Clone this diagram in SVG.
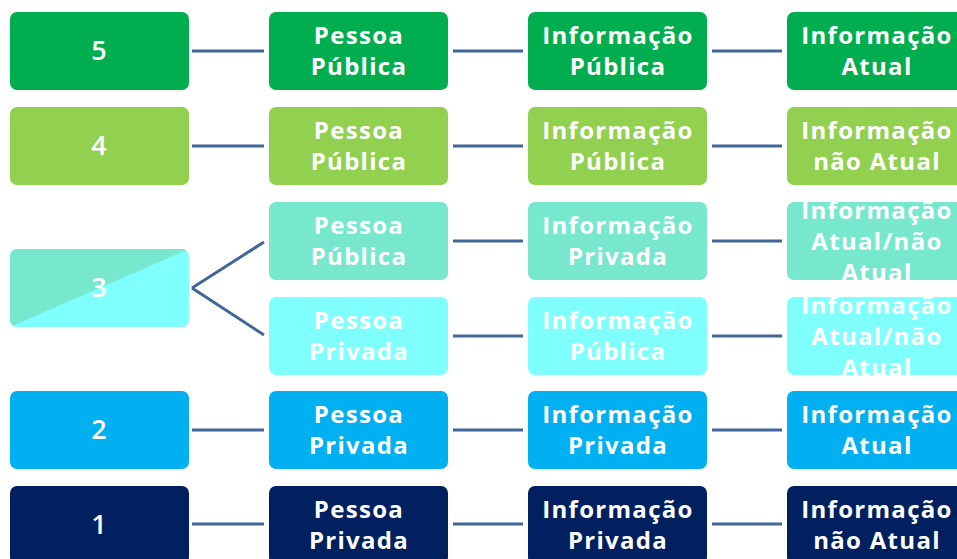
<svg xmlns="http://www.w3.org/2000/svg" width="957" height="559" viewBox="0 0 957 559">
<style>
.t{font-family:"Open Sans","DejaVu Sans",sans-serif;font-weight:700;font-size:24px;letter-spacing:1.3px;fill:#fff;text-anchor:middle}
.n{font-family:"Open Sans","DejaVu Sans",sans-serif;font-weight:600;font-size:27px;fill:#fff;text-anchor:middle}
.c{stroke:#41679A;stroke-width:3;fill:none}
</style>
<defs>
<clipPath id="cA"><rect x="787" y="202" width="179" height="78" rx="7"/></clipPath>
<clipPath id="cB"><rect x="787" y="297" width="179" height="78" rx="7"/></clipPath>
<clipPath id="c3"><rect x="10" y="249" width="179" height="78" rx="7"/></clipPath>
</defs>
<rect width="957" height="559" fill="#fff"/>
<g id="connectors">
<path class="c" d="M192 51H264M453 51H523M712 51H782"/>
<path class="c" d="M192 146H264M453 146H523M712 146H782"/>
<path class="c" d="M192 288L264 242M192 288L264 335"/>
<path class="c" d="M453 241H523M712 241H782"/>
<path class="c" d="M453 336H523M712 336H782"/>
<path class="c" d="M192 430H264M453 430H523M712 430H782"/>
<path class="c" d="M192 524H264M453 524H523M712 524H782"/>
</g>
<g id="n5"><rect x="10" y="12" width="179" height="78" rx="7" fill="#00AE50"/><text class="n" x="99" y="60">5</text></g>
<g id="n5a"><rect x="269" y="12" width="179" height="78" rx="7" fill="#00AE50"/><text class="t" x="359" y="44">Pessoa</text><text class="t" x="359" y="75">Pública</text></g>
<g id="n5b"><rect x="528" y="12" width="179" height="78" rx="7" fill="#00AE50"/><text class="t" x="618" y="44">Informação</text><text class="t" x="618" y="75">Pública</text></g>
<g id="n5c"><rect x="787" y="12" width="179" height="78" rx="7" fill="#00AE50"/><text class="t" x="877" y="44">Informação</text><text class="t" x="877" y="75">Atual</text></g>

<g id="n4"><rect x="10" y="107" width="179" height="78" rx="7" fill="#92D050"/><text class="n" x="99" y="155">4</text></g>
<g id="n4a"><rect x="269" y="107" width="179" height="78" rx="7" fill="#92D050"/><text class="t" x="359" y="139">Pessoa</text><text class="t" x="359" y="170">Pública</text></g>
<g id="n4b"><rect x="528" y="107" width="179" height="78" rx="7" fill="#92D050"/><text class="t" x="618" y="139">Informação</text><text class="t" x="618" y="170">Pública</text></g>
<g id="n4c"><rect x="787" y="107" width="179" height="78" rx="7" fill="#92D050"/><text class="t" x="877" y="139">Informação</text><text class="t" x="877" y="170">não Atual</text></g>

<g id="n3"><g clip-path="url(#c3)"><rect x="10" y="249" width="179" height="78" fill="#80FFFF"/><polygon points="10,249 189,249 10,327" fill="#77E8CE"/></g><text class="n" x="99" y="297">3</text></g>
<g id="n3a1"><rect x="269" y="202" width="179" height="78" rx="7" fill="#77E8CE"/><text class="t" x="359" y="234">Pessoa</text><text class="t" x="359" y="265">Pública</text></g>
<g id="n3a2"><rect x="528" y="202" width="179" height="78" rx="7" fill="#77E8CE"/><text class="t" x="618" y="234">Informação</text><text class="t" x="618" y="265">Privada</text></g>
<g id="n3a3"><rect x="787" y="202" width="179" height="78" rx="7" fill="#77E8CE"/><g clip-path="url(#cA)"><text class="t" x="877" y="219">Informação</text><text class="t" x="877" y="250">Atual/não</text><text class="t" x="877" y="281">Atual</text></g></g>

<g id="n3b1"><rect x="269" y="297" width="179" height="78" rx="7" fill="#80FFFF"/><text class="t" x="359" y="329">Pessoa</text><text class="t" x="359" y="360">Privada</text></g>
<g id="n3b2"><rect x="528" y="297" width="179" height="78" rx="7" fill="#80FFFF"/><text class="t" x="618" y="329">Informação</text><text class="t" x="618" y="360">Pública</text></g>
<g id="n3b3"><rect x="787" y="297" width="179" height="78" rx="7" fill="#80FFFF"/><g clip-path="url(#cB)"><text class="t" x="877" y="314">Informação</text><text class="t" x="877" y="345">Atual/não</text><text class="t" x="877" y="376">Atual</text></g></g>

<g id="n2"><rect x="10" y="391" width="179" height="78" rx="7" fill="#00B0F0"/><text class="n" x="99" y="439">2</text></g>
<g id="n2a"><rect x="269" y="391" width="179" height="78" rx="7" fill="#00B0F0"/><text class="t" x="359" y="423">Pessoa</text><text class="t" x="359" y="454">Privada</text></g>
<g id="n2b"><rect x="528" y="391" width="179" height="78" rx="7" fill="#00B0F0"/><text class="t" x="618" y="423">Informação</text><text class="t" x="618" y="454">Privada</text></g>
<g id="n2c"><rect x="787" y="391" width="179" height="78" rx="7" fill="#00B0F0"/><text class="t" x="877" y="423">Informação</text><text class="t" x="877" y="454">Atual</text></g>

<g id="n1"><rect x="10" y="486" width="179" height="78" rx="7" fill="#002060"/><text class="n" x="99" y="534">1</text></g>
<g id="n1a"><rect x="269" y="486" width="179" height="78" rx="7" fill="#002060"/><text class="t" x="359" y="518">Pessoa</text><text class="t" x="359" y="549">Privada</text></g>
<g id="n1b"><rect x="528" y="486" width="179" height="78" rx="7" fill="#002060"/><text class="t" x="618" y="518">Informação</text><text class="t" x="618" y="549">Privada</text></g>
<g id="n1c"><rect x="787" y="486" width="179" height="78" rx="7" fill="#002060"/><text class="t" x="877" y="518">Informação</text><text class="t" x="877" y="549">não Atual</text></g>
</svg>
